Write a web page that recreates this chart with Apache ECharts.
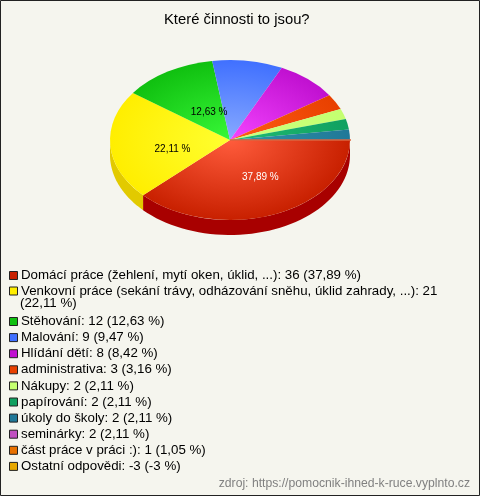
<!DOCTYPE html>
<html><head><meta charset="utf-8">
<style>html,body{margin:0;padding:0;background:#f5f5ee}#c{width:480px;height:496px}</style>
<script src="https://cdn.jsdelivr.net/npm/echarts@6/dist/echarts.min.js"></script>
</head><body><div id="c"></div>
<script>
const categories = ["Domácí práce (žehlení, mytí oken, úklid, ...)","Venkovní práce (sekání trávy, odházování sněhu, úklid zahrady, ...)","Stěhování","Malování","Hlídání dětí","administrativa","Nákupy","papírování","úkoly do školy","seminárky","část práce v práci :)","Ostatní odpovědi"];
const values = [36,21,12,9,8,3,2,2,2,2,1,-3];
const percents = ["37,89","22,11","12,63","9,47","8,42","3,16","2,11","2,11","2,11","2,11","1,05","-3"];
const colors = ["#c82000","#ffee00","#10c010","#4070ff","#c010d0","#e84000","#c4ff70","#10a060","#207898","#c050c0","#e87000","#e8a800"];
const innerColors = ["#ff5c3c","#ffff30","#38f838","#88aaff","#f444ff","#ff5c14","#ccff80","#20bc74","#3094a8","#c050c0","#e87000","#e8a800"];
const sideColors = ["#a80000","#e2ca00"];
const total = values.reduce((a,b)=>a+b,0);

const CX=230, CY=140, RX=120, RY=80, DEPTH=15, YS=RY/RX;
const LABEL_NUDGE = {0:[9,2],1:[0,7],2:[9,5]};
const spans=[]; let acc=0;
values.forEach(v=>{const s=Math.max(v,0)/total*2*Math.PI;const a=Math.min(acc,2*Math.PI),b=Math.min(acc+s,2*Math.PI);spans.push([a,b]);acc+=s;});

function sliceItem(i){
  return function(params,api){
    const [a,b]=spans[i]; const kids=[];
    if(values[i]<=0) return {type:'group',children:[]};
    const sa=a, sb=Math.min(b,Math.PI);
    if(sb>sa){
      const pts=[]; const n=48;
      for(let k=0;k<=n;k++){const t=sa+(sb-sa)*k/n;pts.push([CX+RX*Math.cos(t),CY+RY*Math.sin(t)]);}
      for(let k=n;k>=0;k--){const t=sa+(sb-sa)*k/n;pts.push([CX+RX*Math.cos(t),CY+DEPTH+RY*Math.sin(t)]);}
      kids.push({type:'polygon',z2:1,shape:{points:pts},style:{fill:sideColors[i]||colors[i]}});
    }
    if(b>a){
      kids.push({type:'sector',z2:2,originX:CX,originY:CY,scaleY:YS,
        shape:{cx:CX,cy:CY,r:RX,r0:0,startAngle:a,endAngle:b,clockwise:true},
        style:{fill:{type:'radial',x:CX,y:CY,r:RX,global:true,colorStops:[{offset:0,color:innerColors[i]},{offset:1,color:colors[i]}]}}});
    } else {
      kids.push({type:'line',z2:3,shape:{x1:CX,y1:CY,x2:CX+RX+1,y2:CY},style:{stroke:colors[i],lineWidth:1}});
    }
    const frac=values[i]/total;
    if(frac>=0.1){
      const m=(a+b)/2, n=LABEL_NUDGE[i]||[0,0];
      kids.push({type:'text',z2:5,x:CX+0.48*RX*Math.cos(m)+n[0],y:CY+0.48*RY*Math.sin(m)+n[1],
        style:{text:percents[i]+' %',fill:i===0?'#fff':'#000',font:'10px "Liberation Sans"',align:'center',verticalAlign:'middle'}});
    }
    return {type:'group',children:kids};
  };
}

const series=categories.map((name,i)=>({type:'custom',name,coordinateSystem:'none',data:[[values[i]]],renderItem:sliceItem(i),animation:false,silent:true,itemStyle:{color:colors[i]}}));
const legendText=name=>{const i=categories.indexOf(name);
  return i===1?name+': '+values[i]:name+': '+values[i]+' ('+percents[i]+' %)';};
const legendData=(idx)=>idx.map(i=>({name:categories[i],icon:'rect',itemStyle:{color:colors[i],borderColor:'#222',borderWidth:1}}));
const legendBase={orient:'vertical',left:4,itemWidth:8,itemHeight:8,itemGap:3.1,selectedMode:false,formatter:legendText,
  textStyle:{fontFamily:'Liberation Sans',fontSize:13.3,color:'#000',height:13,lineHeight:13,padding:[0,0,0,-1.5]}};

const chart=echarts.init(document.getElementById('c'),null,{renderer:'canvas'});
chart.setOption({
  backgroundColor:'#f5f5ee',animation:false,
  title:{text:'Které činnosti to jsou?',left:159,top:7,textStyle:{fontFamily:'Liberation Sans',fontSize:14.8,fontWeight:'normal',color:'#000'}},
  legend:[
    Object.assign({},legendBase,{top:264,itemGap:2.5,data:legendData([0,1])}),
    Object.assign({},legendBase,{top:310,data:legendData([2,3,4,5,6,7,8,9,10,11])})
  ],
  graphic:[
    {type:'rect',silent:true,shape:{x:0.5,y:0.5,width:479,height:495},style:{fill:'none',stroke:'#222',lineWidth:1}},
    {type:'text',left:20,top:297,silent:true,style:{text:'(22,11 %)',font:'13.3px "Liberation Sans"',fill:'#000'}},
    {type:'text',right:10,top:478,silent:true,style:{text:'zdroj: https://pomocnik-ihned-k-ruce.vyplnto.cz',font:'12.2px "Liberation Sans"',fill:'#808080'}}
  ],
  series
});
</script></body></html>
